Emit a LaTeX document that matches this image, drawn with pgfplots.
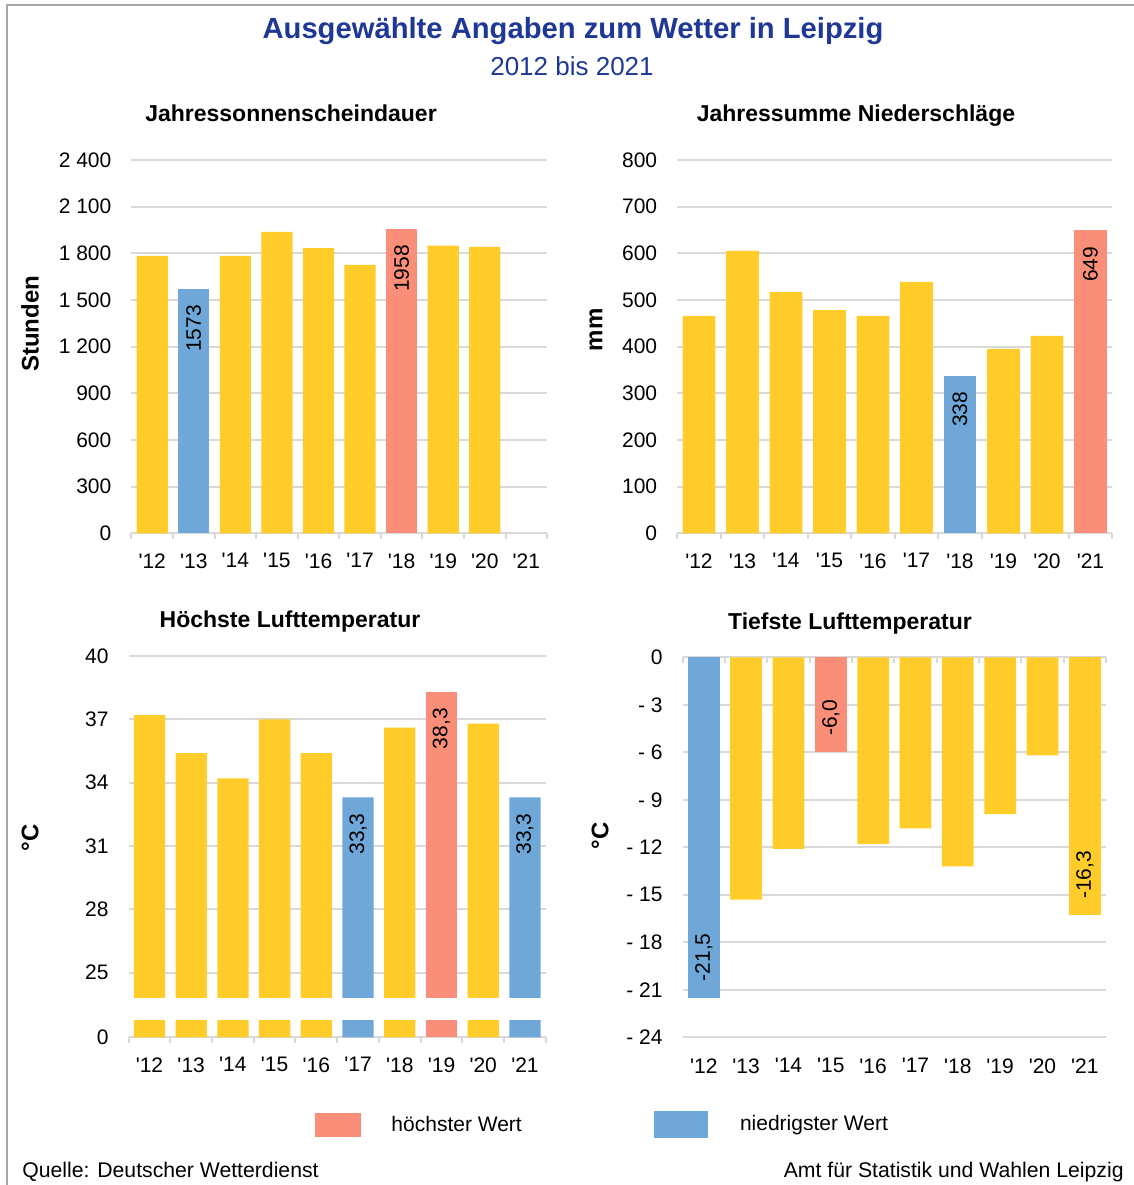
\documentclass[border=0pt]{standalone}
\usepackage{fontspec}
\setmainfont{Liberation Sans}
\usepackage{pgfplots}
\pgfplotsset{compat=1.18}
\definecolor{cy}{RGB}{255,204,41}
\definecolor{cb}{RGB}{111,167,216}
\definecolor{cr}{RGB}{250,142,120}
\definecolor{gridc}{RGB}{217,217,217}
\definecolor{ttl}{RGB}{31,56,150}
\definecolor{frame}{RGB}{166,166,166}
\newcommand{\yy}[1]{\textquotesingle#1}
\newcommand{\fs}{\fontsize{10.5}{12}\selectfont}
\pgfplotsset{
  wb/.style={
    ybar, scale only axis, anchor=south west,
    xmin=-0.5, xmax=9.5, bar width=0.75,
    xtick={0,...,9},
    xticklabels={\yy{12},\yy{13},\yy{14},\yy{15},\yy{16},\yy{17},\yy{18},\yy{19},\yy{20},\yy{21}},
    minor xtick={-0.5,0.5,...,9.5},
    major tick length=0pt, minor tick length=3pt,
    tick style={draw=gridc, line width=1pt},
    axis line style={draw=none},
    ymajorgrids, major grid style={draw=gridc, line width=1pt},
    tick label style={font=\fs},
    xticklabel style={yshift=-6.5pt},
    yticklabel style={xshift=-6.5pt},
    every axis plot/.append style={bar shift=0pt, draw=none},
  },
  lab/.style={nodes near coords, point meta=explicit symbolic,
    every node near coord/.append style={font=\fs, text=black, inner sep=0pt, yshift=-8pt, rotate=90, anchor=east}},
  labn/.style={nodes near coords, point meta=explicit symbolic,
    every node near coord/.append style={font=\fs, text=black, inner sep=0pt, yshift=8pt, rotate=90, anchor=west}},
  legA/.style={legend image code/.code={\fill[##1] (0pt,-6pt) rectangle (23pt,6pt);}},
  legB/.style={legend image code/.code={\fill[##1] (0pt,-6.75pt) rectangle (27pt,6.75pt);}},
}
\tikzset{ptitle/.style={font=\fontsize{11.5}{13}\selectfont\bfseries, anchor=base}}
\begin{document}
\begin{tikzpicture}
\path[use as bounding box] (0,0) rectangle (567pt,592.5pt);
\draw[frame, line width=1pt] (3.5pt,0) -- (3.5pt,590pt) -- (567pt,590pt);
\node[font=\fontsize{14.6}{17}\selectfont\bfseries, text=ttl] at (286.5pt,577pt) {Ausgewählte Angaben zum Wetter in Leipzig};
\node[font=\fontsize{13}{15}\selectfont, text=ttl] at (286pt,559.5pt) {2012 bis 2021};

% Panel 1
\begin{axis}[wb, at={(65.7pt,325.85pt)}, width=207.9pt, height=186.67pt,
  ymin=0, ymax=2400, ytick={0,300,...,2400},
  yticklabels={0,300,600,900,1 200,1 500,1 800,2 100,2 400},
  xtick pos=bottom, tick align=outside]
\addplot[fill=cy] coordinates {(0,1783) (2,1783) (3,1937) (4,1834) (5,1725) (7,1849) (8,1841)};
\addplot[fill=cb, lab] coordinates {(1,1573) [1573]};
\addplot[fill=cr, lab] coordinates {(6,1958) [1958]};
\end{axis}
\node[ptitle] at (145.5pt,531.5pt) {Jahressonnenscheindauer};
\node[font=\fontsize{12}{14}\selectfont\bfseries, rotate=90] at (15pt,430.5pt) {Stunden};

% Panel 2
\begin{axis}[wb, at={(338.6pt,325.85pt)}, width=217.5pt, height=186.67pt,
  ymin=0, ymax=800, ytick={0,100,...,800},
  yticklabels={0,100,200,300,400,500,600,700,800},
  xtick pos=bottom, tick align=outside]
\addplot[fill=cy] coordinates {(0,466) (1,605) (2,517) (3,478) (4,466) (5,539) (7,395) (8,423)};
\addplot[fill=cb, lab] coordinates {(6,338) [338]};
\addplot[fill=cr, lab] coordinates {(9,649) [649]};
\end{axis}
\node[ptitle] at (428pt,531.5pt) {Jahressumme Niederschläge};
\node[font=\fontsize{12}{14}\selectfont\bfseries, rotate=90] at (298pt,427.5pt) {mm};

% Panel 3
\begin{axis}[wb, at={(64.3pt,73.85pt)}, width=208.6pt, height=190.65pt,
  ymin=21.93, ymax=40, ytick={21.93,25,28,31,34,37,40},
  yticklabels={0,25,28,31,34,37,40},
  xtick pos=bottom, tick align=outside,
  legend style={at={(axis description cs:0.447,-0.23)}, anchor=west, draw=none, fill=none,
    inner sep=0pt, font=\fs, /tikz/every odd column/.append style={column sep=13pt}}]
\addplot[fill=cy, forget plot] coordinates {(0,37.2) (1,35.4) (2,34.2) (3,37.0) (4,35.4) (6,36.6) (8,36.8)};
\addplot[fill=cb, lab, forget plot] coordinates {(5,33.3) [{33,3}] (9,33.3) [{33,3}]};
\addplot[fill=cr, lab, legA] coordinates {(7,38.3) [{38,3}]};
\addlegendentry{höchster Wert}
\addplot[sharp plot, fill=white, draw=none, forget plot] coordinates {(-0.5,22.75) (9.5,22.75) (9.5,23.81) (-0.5,23.81)} -- cycle;
\end{axis}
\node[ptitle] at (145pt,278.5pt) {Höchste Lufttemperatur};
\node[font=\fontsize{12}{14}\selectfont\bfseries, rotate=90] at (15pt,173.5pt) {°C};

% Panel 4
\begin{axis}[wb, at={(341.3pt,73.85pt)}, width=211.7pt, height=190pt,
  ymin=-24, ymax=0, ytick={-24,-21,...,0},
  yticklabels={- 24,- 21,- 18,- 15,- 12,- 9,- 6,- 3,0},
  xtick pos=upper, xticklabel pos=lower, tick align=inside,
  xticklabel style={yshift=-0.5pt},
  legend style={at={(axis description cs:-0.0684,-0.2295)}, anchor=west, draw=none, fill=none,
    inner sep=0pt, font=\fs, /tikz/every odd column/.append style={column sep=14pt}}]
\addplot[fill=cy, forget plot] coordinates {(1,-15.3) (2,-12.1) (4,-11.8) (5,-10.8) (6,-13.2) (7,-9.9) (8,-6.2)};
\addplot[fill=cy, labn, forget plot] coordinates {(9,-16.3) [{-16,3}]};
\addplot[fill=cr, labn, forget plot] coordinates {(3,-6.0) [{-6,0}]};
\addplot[fill=cb, labn, legB] coordinates {(0,-21.5) [{-21,5}]};
\addlegendentry{niedrigster Wert}
\end{axis}
\node[ptitle] at (425pt,277.5pt) {Tiefste Lufttemperatur};
\node[font=\fontsize{12}{14}\selectfont\bfseries, rotate=90] at (300pt,174.5pt) {°C};

\node[font=\fontsize{10.6}{12}\selectfont, anchor=west, inner sep=0pt] at (11pt,6.5pt) {Quelle: Deutscher Wetterdienst};
\node[font=\fontsize{10.6}{12}\selectfont, anchor=east, inner sep=0pt] at (562pt,6.5pt) {Amt für Statistik und Wahlen Leipzig};
\end{tikzpicture}
\end{document}
